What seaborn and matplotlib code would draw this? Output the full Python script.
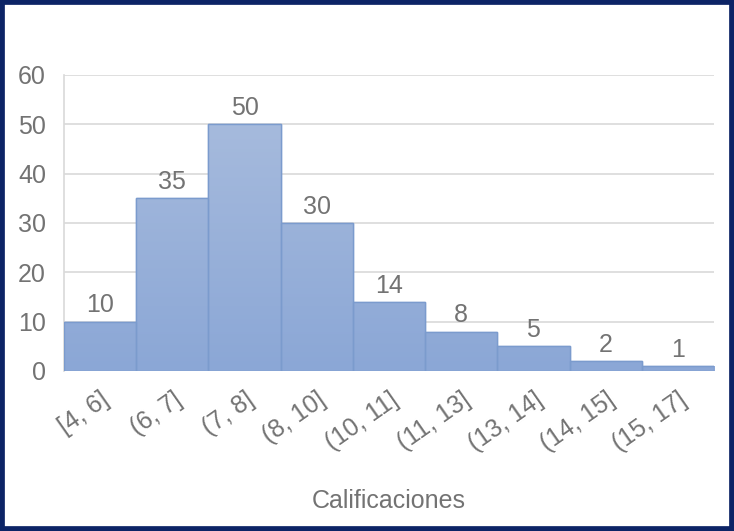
import numpy as np
import pandas as pd
import matplotlib
matplotlib.use("Agg")
import matplotlib.pyplot as plt
from matplotlib.patches import Rectangle
import seaborn as sns

# Grade intervals and number of students in each
intervalos = ["[4, 6]", "(6, 7]", "(7, 8]", "(8, 10]", "(10, 11]",
              "(11, 13]", "(13, 14]", "(14, 15]", "(15, 17]"]
frecuencias = [10, 35, 50, 30, 14, 8, 5, 2, 1]
y_ticks = [0, 10, 20, 30, 40, 50, 60]

sns.set_theme(style="white")
plt.rcParams["font.family"] = ["Liberation Sans", "DejaVu Sans"]

TEXT = "#737373"
GRID = "#d9d9d9"

df = pd.DataFrame({"intervalo": intervalos, "frecuencia": frecuencias})

fig = plt.figure(figsize=(7.34, 5.31), dpi=100)
ax = fig.add_axes([64 / 734, 1 - 371 / 531, 650 / 734, 296 / 531])

sns.barplot(data=df, x="intervalo", y="frecuencia", ax=ax, width=1.0,
            color="#98afd8", edgecolor="#7b9bcd", linewidth=1.0,
            saturation=1.0, zorder=3)

ax.set_ylim(0, 60)
ax.set_xlim(-0.5, len(intervalos) - 0.5)
ax.set_yticks(y_ticks)
ax.set_yticklabels([str(v) for v in y_ticks], fontsize=18, color=TEXT)
ax.yaxis.grid(True, color=GRID, linewidth=1.2, zorder=0)
ax.set_axisbelow(True)

# vertical gradient inside each bar
grad = np.linspace(0, 1, 256).reshape(-1, 1)
cmap = matplotlib.colors.LinearSegmentedColormap.from_list(
    "barra", ["#8ba7d6", "#abbede"])
for bar in ax.patches:
    im = ax.imshow(grad, extent=[-0.5, len(intervalos) - 0.5, 0, 60],
                   origin="lower", aspect="auto", cmap=cmap, zorder=3.5)
    im.set_clip_path(bar)
    edge = Rectangle(bar.get_xy(), bar.get_width(), bar.get_height(),
                     fill=False, edgecolor="#7b9bcd", linewidth=1.0,
                     zorder=4)
    ax.add_patch(edge)

# value labels above the bars
for i, v in enumerate(frecuencias):
    ax.annotate(str(v), (i, v), xytext=(0, 3), textcoords="offset points",
                ha="center", va="bottom", fontsize=18, color=TEXT, zorder=5)

ax.set_xticks(range(len(intervalos)))
ax.set_xticklabels(intervalos, fontsize=18, color=TEXT, rotation=35,
                   ha="right", va="top", rotation_mode="anchor")
ax.tick_params(axis="x", length=0, pad=12)
ax.tick_params(axis="y", length=0, pad=13)
ax.set_xlabel("Calificaciones", fontsize=18, color=TEXT, labelpad=24)
ax.set_ylabel("")

for side in ["top", "right", "bottom"]:
    ax.spines[side].set_visible(False)
ax.spines["left"].set_color(GRID)
ax.spines["left"].set_linewidth(1.2)

# dark outer frame of the chart
fig.patches.append(Rectangle((0, 0), 1, 1, transform=fig.transFigure,
                             fill=False, edgecolor="#0c2466",
                             linewidth=7, zorder=10))

fig.savefig("out.png", dpi=100)
